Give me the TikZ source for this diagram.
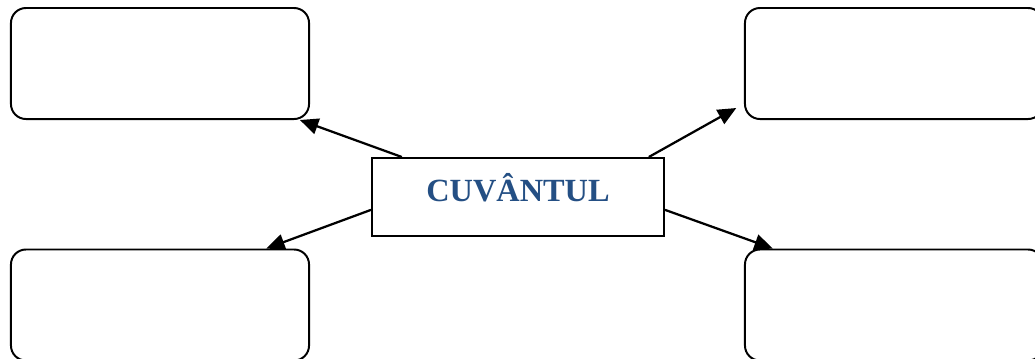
\documentclass[tikz,border=0pt]{standalone}
\usepackage{fontspec}
\setmainfont{Liberation Serif}
\usetikzlibrary{arrows.meta}
\definecolor{wordblue}{RGB}{36,79,132}
\tikzset{
  answer/.style={draw, line width=1.4pt, rounded corners=0.375cm,
                 minimum width=7.45cm, minimum height=2.775cm},
  wordbox/.style={draw, line width=1.4pt, minimum width=7.3cm, minimum height=1.95cm,
                  text height=0.55cm, text depth=0.325cm, inner sep=0pt,
                  font=\fontsize{23}{28}\selectfont\bfseries, text=wordblue},
  link/.style={line width=1.6pt, -{Triangle[length=0.46cm,width=0.4cm]}}
}
\begin{document}
\begin{tikzpicture}[x=0.025cm,y=-0.025cm]
    \clip (0,0) rectangle (1035,358);
    \fill[white] (0,0) rectangle (1035,358);

    \node[wordbox] (word) at (518,197) {CUVÂNTUL};

    \node[answer] (tl) at (160,63.5) {};
    \node[answer] (tr) at (894,63.5) {};
    \node[answer] (bl) at (160,305) {};
    \node[answer] (br) at (894,305) {};

    %arrows from the word to the four boxes
    \draw[link] (word.161.7) -- (tl.-22.5);
    \draw[link, shorten >=0.22cm] (word.17.1) -- (tr.195.3);
    \draw[link] (word.185.9) -- (bl.28);
    \draw[link] (word.-5.9) -- (br.155.8);
\end{tikzpicture}
\end{document}
